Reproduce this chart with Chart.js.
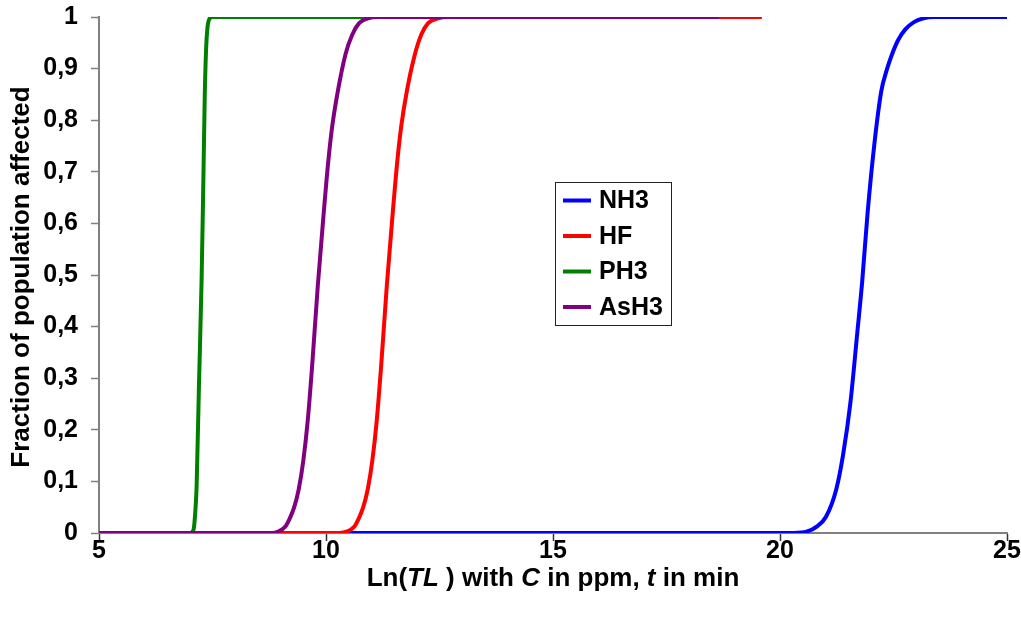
<!DOCTYPE html>
<html>
<head>
<meta charset="utf-8">
<script src="https://cdn.jsdelivr.net/npm/chart.js"></script>
<style>
  html, body { margin: 0; padding: 0; background: #fff; }
  #wrap { width: 1021px; height: 620px; }
</style>
</head>
<body>
<div id="wrap"><canvas id="c" width="1021" height="620"></canvas></div>
<script>
// data
const seriesNames = ['NH3', 'HF', 'PH3', 'AsH3'];
const seriesColors = ['#0000ff', '#ff0000', '#008000', '#800080'];

const xTicks = [5, 10, 15, 20, 25];
const yTickLabels = ['0', '0,1', '0,2', '0,3', '0,4', '0,5', '0,6', '0,7', '0,8', '0,9', '1'];

const nh3X = [5, 20.3, 20.6, 20.8, 21.01, 21.24, 21.39, 21.55, 21.70, 21.81, 21.93, 22.08, 22.23, 22.35, 22.46, 22.6, 22.76, 22.95, 23.14, 23.4, 25];
const nh3Y = [0, 0, 0.003, 0.012, 0.031, 0.085, 0.152, 0.252, 0.386, 0.487, 0.621, 0.755, 0.856, 0.897, 0.926, 0.955, 0.976, 0.99, 0.997, 1, 1];

const hfX = [5, 10.3, 10.47, 10.62, 10.72, 10.82, 10.92, 11.02, 11.12, 11.22, 11.34, 11.46, 11.57, 11.66, 11.78, 11.95, 12.1, 12.25, 12.45, 12.72, 19.6];
const hfY = [0, 0, 0.003, 0.012, 0.028, 0.05, 0.085, 0.14, 0.22, 0.33, 0.48, 0.61, 0.72, 0.79, 0.856, 0.925, 0.966, 0.988, 0.997, 1, 1];

const ph3X = [5, 7.0, 7.05, 7.09, 7.12, 7.15, 7.20, 7.26, 7.30, 7.33, 7.36, 7.39, 7.43, 7.5, 11.8];
const ph3Y = [0, 0, 0.002, 0.01, 0.04, 0.09, 0.28, 0.49, 0.69, 0.85, 0.94, 0.98, 0.996, 1, 1];

const ash3X = [5, 8.8, 8.95, 9.1, 9.2, 9.3, 9.4, 9.5, 9.6, 9.7, 9.82, 9.94, 10.05, 10.14, 10.26, 10.43, 10.58, 10.73, 10.91, 11.15, 18.66];
const ash3Y = [0, 0, 0.003, 0.012, 0.028, 0.05, 0.085, 0.14, 0.22, 0.33, 0.48, 0.61, 0.72, 0.79, 0.856, 0.928, 0.966, 0.988, 0.997, 1, 1];

const FONT = '"Liberation Sans", Arial, sans-serif';

function pts(xs, ys) {
    return xs.map((x, i) => ({ x: x, y: ys[i] }));
}

const allX = [nh3X, hfX, ph3X, ash3X];
const allY = [nh3Y, hfY, ph3Y, ash3Y];

const datasets = seriesNames.map((name, i) => ({
    label: name,
    data: pts(allX[i], allY[i]),
    borderColor: seriesColors[i],
    backgroundColor: seriesColors[i],
    borderWidth: 4,
    pointRadius: 0,
    fill: false,
    showLine: true,
    cubicInterpolationMode: 'monotone',
    order: seriesNames.length - i   // later series drawn on top
}));

// legend box inside the plot
const boxLegend = {
    id: 'boxLegend',
    afterDraw(chart) {
        const ctx = chart.ctx;
        const left = 555, top = 182, w = 116, h = 143;
        ctx.save();
        ctx.fillStyle = '#fff';
        ctx.fillRect(left, top, w, h);
        ctx.strokeStyle = '#222';
        ctx.lineWidth = 1;
        ctx.strokeRect(left + 0.5, top + 0.5, w, h);
        ctx.font = 'bold 25px ' + FONT;
        ctx.textBaseline = 'middle';
        seriesNames.forEach((name, i) => {
            const y = top + 18.5 + i * 35.5;
            ctx.strokeStyle = seriesColors[i];
            ctx.lineWidth = 4;
            ctx.beginPath();
            ctx.moveTo(left + 8, y);
            ctx.lineTo(left + 36, y);
            ctx.stroke();
            ctx.fillStyle = '#000';
            ctx.fillText(name, left + 44, y + 1);
        });
        ctx.restore();
    }
};

// axis titles (x title has italic parts)
const axisTitles = {
    id: 'axisTitles',
    afterDraw(chart) {
        const ctx = chart.ctx;
        const area = chart.chartArea;
        ctx.save();
        ctx.fillStyle = '#000';
        ctx.textBaseline = 'middle';

        const parts = [
            ['Ln(', false], ['TL', true], [' ) with ', false], ['C', true],
            [' in ppm, ', false], ['t', true], [' in min', false]
        ];
        let total = 0;
        parts.forEach(p => {
            ctx.font = (p[1] ? 'italic ' : '') + 'bold 26px ' + FONT;
            p.w = ctx.measureText(p[0]).width;
            total += p.w;
        });
        let x = (area.left + area.right) / 2 - total / 2;
        parts.forEach(p => {
            ctx.font = (p[1] ? 'italic ' : '') + 'bold 26px ' + FONT;
            ctx.textAlign = 'left';
            ctx.fillText(p[0], x, 579);
            x += p.w;
        });

        ctx.translate(22, 277);
        ctx.rotate(-Math.PI / 2);
        ctx.textAlign = 'center';
        ctx.font = 'bold 26px ' + FONT;
        ctx.fillText('Fraction of population affected', 0, 0);
        ctx.restore();
    }
};

new Chart(document.getElementById('c'), {
    type: 'scatter',
    data: { datasets: datasets },
    options: {
        responsive: false,
        animation: false,
        devicePixelRatio: 1,
        layout: { padding: { top: 17, right: 14, left: 0, bottom: 0 } },
        plugins: {
            legend: { display: false },
            tooltip: { enabled: false }
        },
        scales: {
            x: {
                type: 'linear',
                min: xTicks[0],
                max: xTicks[xTicks.length - 1],
                afterFit: s => {
                    s.height = 87;
                    s.paddingLeft = 0;
                    s.paddingRight = 0;
                },
                afterBuildTicks: s => { s.ticks = xTicks.map(v => ({ value: v })); },
                grid: { drawOnChartArea: false, tickLength: 8, color: '#333', tickWidth: 1.5 },
                border: { color: '#808080', width: 2 },
                ticks: {
                    color: '#000',
                    padding: -5,
                    maxRotation: 0,
                    font: { family: FONT, size: 25, weight: 'bold' }
                }
            },
            y: {
                min: 0,
                max: 1,
                afterFit: s => {
                    s.width = 99;
                    s.paddingTop = 0;
                    s.paddingBottom = 0;
                },
                grid: { drawOnChartArea: false, tickLength: 8, color: '#808080', tickWidth: 1.5 },
                border: { color: '#808080', width: 2 },
                ticks: {
                    stepSize: 0.1,
                    color: '#000',
                    padding: 13,
                    font: { family: FONT, size: 25, weight: 'bold' },
                    callback: (v, i) => yTickLabels[i]
                }
            }
        }
    },
    plugins: [boxLegend, axisTitles]
});
</script>
</body>
</html>
